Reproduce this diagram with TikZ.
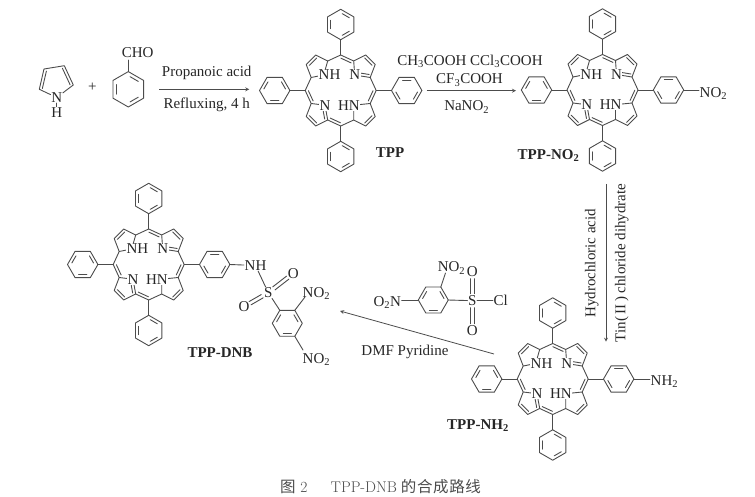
\documentclass[tikz,border=0pt]{standalone}
\usepackage{fontspec}
\usetikzlibrary{calc}
\usetikzlibrary{arrows}
\newfontfamily\timesfont{Liberation Serif}
\newfontfamily\cjk[LetterSpace=4]{Noto Sans CJK SC}
\tikzset{
  bond/.style={line width=0.9pt,draw=black!70,line cap=round,line join=round},
  atom/.style={font=\timesfont\fontsize{15}{17}\selectfont,text=black!85,inner sep=0.5pt},
  ringatom/.style={atom,fill=white},
  cond/.style={atom,inner sep=0pt},
  title/.style={atom,font=\timesfont\bfseries\fontsize{15}{17}\selectfont},
  rxn/.style={line width=0.8pt,draw=black!70,-stealth},
}
\newcommand{\subs}[1]{\textsubscript{#1}}
% second line of a double bond, on the left of the way from #1 to #2
\newcommand{\dbl}[2]{\draw[bond,shorten <=1.5pt,shorten >=1.5pt] ($(#1)!2.8pt!90:(#2)$) -- ($(#2)!2.8pt!-90:(#1)$);}
% both lines of a S=O bond
\newcommand{\sdbl}[2]{%
  \draw[bond,shorten <=7pt,shorten >=7pt] ($(#1)!1.9pt!90:(#2)$) -- ($(#2)!1.9pt!-90:(#1)$);
  \draw[bond,shorten <=7pt,shorten >=7pt] ($(#1)!1.9pt!-90:(#2)$) -- ($(#2)!1.9pt!90:(#1)$);}
% centre, angle of first corner, radius, angle of first inner line
\newcommand{\benzene}[4]{%
  \begin{scope}[shift={#1}]
    \draw[bond] (#2:#3) -- (#2+60:#3) -- (#2+120:#3) -- (#2+180:#3) -- (#2+240:#3) -- (#2+300:#3) -- cycle;
    \foreach \a in {0,120,240}
      \draw[bond] (#4+\a-22:0.72*#3) -- (#4+\a+22:0.72*#3);
  \end{scope}}
% name, centre
\newcommand{\porphyrin}[2]{%
  \begin{scope}[shift={#2},name prefix=#1-]
    % Define the coordinates of the ring atoms
    \coordinate (mt) at (0,-35.5);
    \coordinate (ml) at (-35.5,0);
    \coordinate (mr) at (35.5,0);
    \coordinate (mb) at (0,35.5);
    \coordinate (a1) at (-13,-29.5);
    \coordinate (b1) at (-25,-35.5);
    \coordinate (b2) at (-34.5,-26);
    \coordinate (a2) at (-29.5,-13);
    \coordinate (n1) at (-17,-15.5);
    \coordinate (a3) at (13,-29.5);
    \coordinate (b3) at (25,-35.5);
    \coordinate (b4) at (34.5,-26);
    \coordinate (a4) at (29.5,-13);
    \coordinate (n2) at (14,-15.5);
    \coordinate (a5) at (-29.5,13);
    \coordinate (b5) at (-34.5,26);
    \coordinate (b6) at (-25,35.5);
    \coordinate (a6) at (-13,29.5);
    \coordinate (n3) at (-15.7,14.7);
    \coordinate (a7) at (29.5,13);
    \coordinate (b7) at (34.5,26);
    \coordinate (b8) at (25,35.5);
    \coordinate (a8) at (13,29.5);
    \coordinate (n4) at (13,14.7);
    % Draw the big ring and the four small ones
    \draw[bond] (mt) -- (a1) -- (b1) -- (b2) -- (a2) -- (ml) -- (a5) -- (b5) -- (b6) -- (a6) -- (mb) -- (a8) -- (b8) -- (b7) -- (a7) -- (mr) -- (a4) -- (b4) -- (b3) -- (a3) -- cycle;
    \draw[bond] (a1) -- (n1) -- (a2);
    \draw[bond] (a3) -- (n2) -- (a4);
    \draw[bond] (a5) -- (n3) -- (a6);
    \draw[bond] (a7) -- (n4) -- (a8);
    \dbl{a3}{mt} \dbl{ml}{a5} \dbl{a6}{mb} \dbl{a7}{mr}
    \dbl{b1}{b2} \dbl{b4}{b3} \dbl{b5}{b6} \dbl{b8}{b7}
    \dbl{n2}{a4} \dbl{a6}{n3}
    % Label the nitrogens
    \node[ringatom] (nh1) at (-11.2,-15.5) {NH};
    \node[ringatom] (nb1) at (14,-15.5) {N};
    \node[ringatom] (nb2) at (-15.7,14.7) {N};
    \node[ringatom] (nh2) at (8.2,14.7) {HN};
    % Phenyl groups
    \benzene{(0,-66)}{30}{15.2}{60}
    \benzene{(-66,0)}{0}{15.2}{90}
    \benzene{(0,66)}{30}{15.2}{60}
    \benzene{(66,0)}{0}{15.2}{30}
    \coordinate (pt) at (0,-50.8);
    \coordinate (pl) at (-50.8,0);
    \coordinate (pb) at (0,50.8);
    \coordinate (pr) at (50.8,0);
    \coordinate (sub) at (81.2,0);
    \draw[bond] (mt) -- (pt);
    \draw[bond] (ml) -- (pl);
    \draw[bond] (mb) -- (pb);
    \draw[bond] (mr) -- (pr);
  \end{scope}}

\begin{document}
\begin{tikzpicture}[x=1pt,y=-1pt]
  \useasboundingbox (0,0) rectangle (755,497);

  % Pyrrole
  \coordinate (py1) at (44,69);
  \coordinate (py2) at (64.3,65.7);
  \coordinate (py3) at (73.3,85);
  \coordinate (py4) at (39.3,89.3);
  \node[atom] (pyn) at (56.7,97.5) {N};
  \node[atom] (pyh) at (56.7,112.3) {H};
  \draw[bond] (pyn) -- (py4) -- (py1) -- (py2) -- (py3) -- (pyn);
  \draw[bond] (pyn) -- (pyh);
  \dbl{py1}{py4} \dbl{py3}{py2}
  \node[atom] (plus) at (92.3,87.5) {+};

  % Benzaldehyde
  \benzene{(128.3,89.3)}{30}{17.7}{60}
  \coordinate (bzt) at (128.3,71.6);
  \node[atom] (cho) at (137.7,52.7) {CHO};
  \draw[bond] (bzt) -- (128.3,60);

  % First arrow
  \coordinate (s1) at (159.3,89.3);
  \coordinate (e1) at (249.3,89.3);
  \draw[rxn] (s1) -- (e1);
  \node[cond] (c1a) at (206.7,72.7) {Propanoic acid};
  \node[cond] (c1b) at (206.7,105) {Refluxing, 4 h};

  % The four porphyrins
  \porphyrin{tpp}{(340.7,90.5)}
  \porphyrin{tno}{(602.5,90)}
  \porphyrin{tnh}{(552.7,379)}
  \porphyrin{dnb}{(148.7,264.5)}

  \node[title] (ltpp) at (390,152.7) {TPP};
  \node[title,anchor=base] (ltno) at (548.5,159.5) {TPP-NO\subs{2}};
  \node[title,anchor=base] (ltnh) at (478,429.5) {TPP-NH\subs{2}};
  \node[title] (ldnb) at (220,353) {TPP-DNB};

  % Second arrow
  \coordinate (s2) at (426.7,90.7);
  \coordinate (e2) at (516,90.7);
  \draw[rxn] (s2) -- (e2);
  \node[cond,anchor=base] (c2a) at (470,65.5) {CH\subs{3}COOH CCl\subs{3}COOH};
  \node[cond,anchor=base] (c2b) at (469.5,84) {CF\subs{3}COOH};
  \node[cond,anchor=base] (c2c) at (466.7,111) {NaNO\subs{2}};

  % Nitro and amino ends
  \node[atom,anchor=base west] (no1) at (699,97.5) {NO\subs{2}};
  \draw[bond] (tno-sub) -- (no1.west |- tno-sub);
  \node[atom,anchor=base west] (nh3) at (650,385) {NH\subs{2}};
  \draw[bond] (tnh-sub) -- (nh3.west |- tnh-sub);

  % Third arrow
  \coordinate (s3) at (606,184);
  \coordinate (e3) at (606,341.7);
  \draw[rxn] (s3) -- (e3);
  \node[cond,rotate=90] (c3a) at (591.7,263.3) {Hydrochloric acid};
  \node[cond,rotate=90] (c3b) at (621.7,263) {Tin(\,II\,) chloride dihydrate};

  % Fourth arrow
  \coordinate (s4) at (494,354);
  \coordinate (e4) at (340,311);
  \draw[rxn] (s4) -- (e4);
  \node[cond] (c4) at (405,351.7) {DMF Pyridine};

  % Sulfonyl chloride
  \coordinate (rgr) at (433.3,300);
  \benzene{(433.3,300)}{0}{15}{90}
  \node[atom,anchor=base east] (rgl) at (401.7,306) {O\subs{2}N};
  \node[atom,anchor=base] (rgn) at (451.5,272) {NO\subs{2}};
  \node[atom] (rgs) at (472.3,300.7) {S};
  \node[atom] (rgc) at (500.7,300.7) {Cl};
  \node[atom] (rgo1) at (472.3,271.7) {O};
  \node[atom] (rgo2) at (472.3,330.7) {O};
  \draw[bond] (rgl.east |- rgr) -- ($(rgr)+(180:15)$);
  \draw[bond] ($(rgr)+(300:15)$) -- (445.5,273);
  \draw[bond] ($(rgr)+(0:15)$) -- (rgs);
  \draw[bond] (rgs) -- (rgc);
  \sdbl{rgs}{rgo1}
  \sdbl{rgs}{rgo2}

  % Sulfonamide end of TPP-DNB
  \coordinate (dnr) at (287.3,323.3);
  \benzene{(287.3,323.3)}{0}{15}{90}
  \node[atom] (dnh) at (255.5,265.5) {NH};
  \node[atom] (dns) at (268.3,292.7) {S};
  \node[atom] (dno1) at (293.3,273.3) {O};
  \node[atom] (dno2) at (244,306.7) {O};
  \node[atom,anchor=base west] (dnn1) at (302,297.5) {NO\subs{2}};
  \node[atom,anchor=base west] (dnn2) at (302,363) {NO\subs{2}};
  \draw[bond] (dnb-sub) -- (dnh);
  \draw[bond] (dnh) -- (dns);
  \draw[bond] (dns) -- ($(dnr)+(240:15)$);
  \draw[bond] ($(dnr)+(300:15)$) -- (305,297);
  \draw[bond] ($(dnr)+(60:15)$) -- (303,350);
  \sdbl{dns}{dno1}
  \sdbl{dns}{dno2}

  % Caption
  \node[inner sep=0pt,text=black!70,font=\fontsize{15.5}{17}\selectfont] (cap) at (380.5,487) {{\cjk 图}\ 2\hspace{1.5em}TPP-DNB\hspace{0.25em}{\cjk 的合成路线}};
\end{tikzpicture}
\end{document}
